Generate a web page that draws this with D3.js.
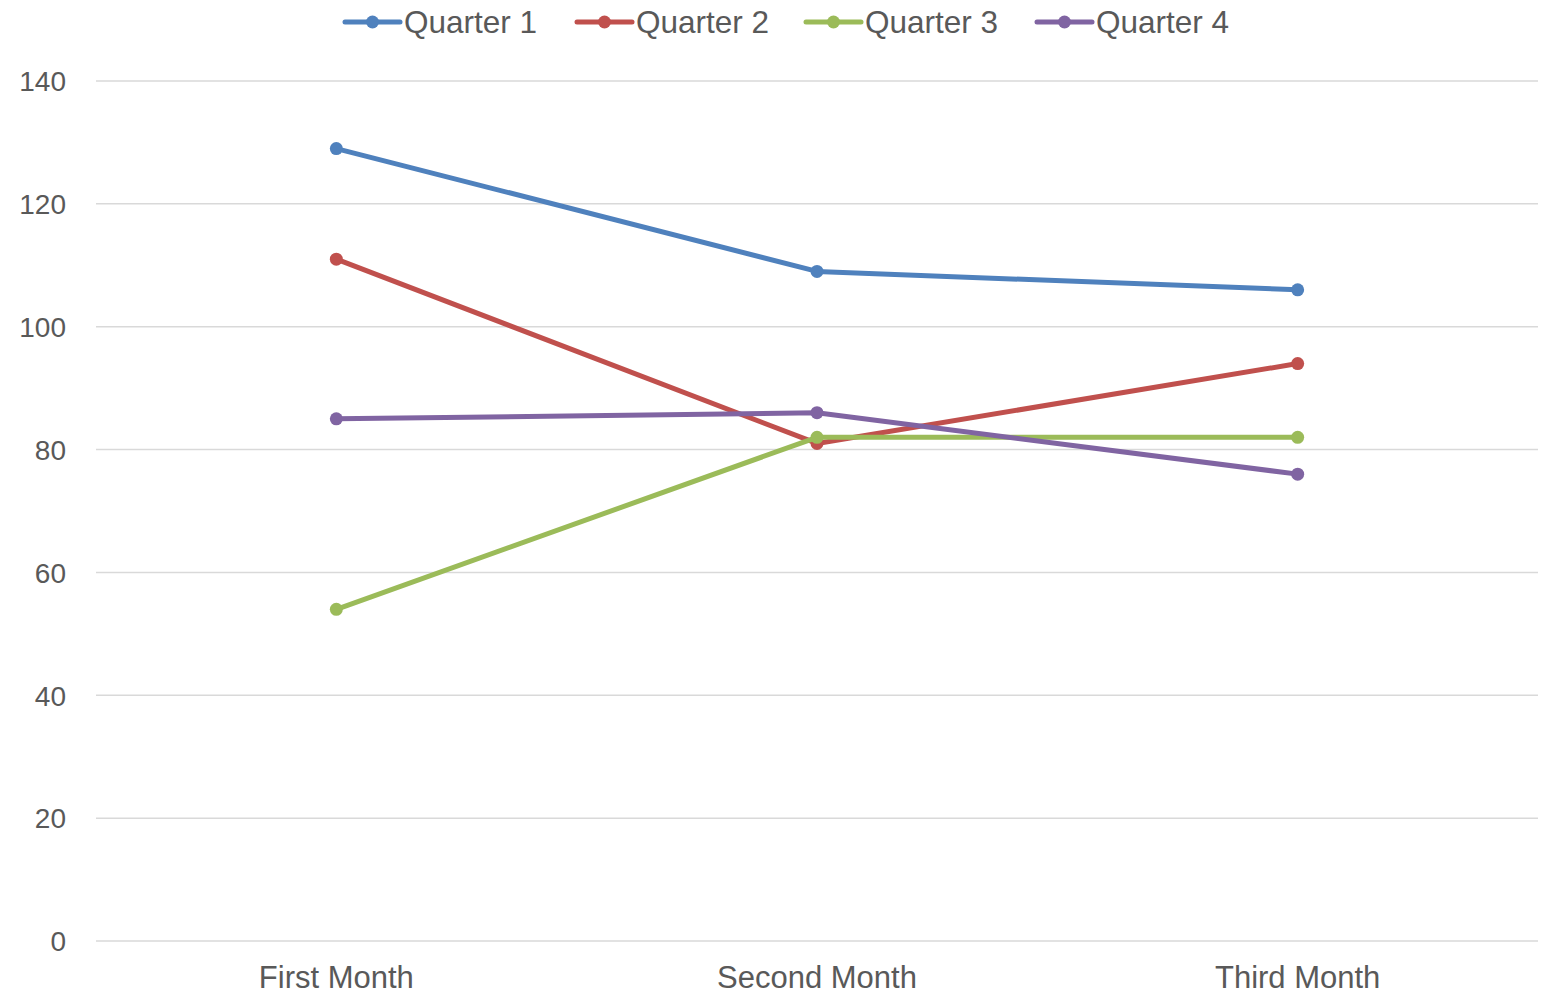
<!DOCTYPE html>
<html>
<head>
<meta charset="utf-8">
<script src="https://cdn.jsdelivr.net/npm/d3@7"></script>
<style>
  body { margin: 0; background: #fff; }
  text { font-family: "Liberation Sans", Arial, sans-serif; fill: #595959; }
</style>
</head>
<body>
<svg id="chart" width="1552" height="995"></svg>
<script>
// data
var months = ["First Month", "Second Month", "Third Month"];
var seriesNames = ["Quarter 1", "Quarter 2", "Quarter 3", "Quarter 4"];
var quarter1 = [129, 109, 106];
var quarter2 = [111, 81, 94];
var quarter3 = [54, 82, 82];
var quarter4 = [85, 86, 76];
var colors = ["#4f81bd", "#c0504d", "#9bbb59", "#8064a2"];
var yTicks = [0, 20, 40, 60, 80, 100, 120, 140];

var allSeries = [quarter1, quarter2, quarter3, quarter4];

var svg = d3.select("#chart");
var plotLeft = 96, plotRight = 1538, plotTop = 81, plotBottom = 941;

var x = d3.scaleBand().domain(months).range([plotLeft, plotRight]);
var y = d3.scaleLinear().domain([0, 140]).range([plotBottom, plotTop]);

// gridlines
svg.append("g")
    .selectAll("line")
    .data(yTicks)
    .enter()
    .append("line")
    .attr("x1", plotLeft)
    .attr("x2", plotRight)
    .attr("y1", function(d) { return y(d); })
    .attr("y2", function(d) { return y(d); })
    .attr("stroke", "#d9d9d9")
    .attr("stroke-width", 1.5);

// y axis labels
var yAxis = svg.append("g")
    .attr("transform", "translate(" + (plotLeft - 30) + ",0)")
    .call(d3.axisLeft(y).tickValues(yTicks).tickSize(0).tickPadding(0));
yAxis.select(".domain").remove();
yAxis.selectAll("text")
    .attr("font-size", "28px")
    .attr("font-family", "Liberation Sans, Arial, sans-serif")
    .attr("fill", "#595959")
    .attr("dy", "0.35em");

// x axis labels
var xAxis = svg.append("g")
    .attr("transform", "translate(0," + plotBottom + ")")
    .call(d3.axisBottom(x).tickSize(0).tickPadding(0));
xAxis.select(".domain").remove();
xAxis.selectAll("text")
    .attr("font-size", "31px")
    .attr("font-family", "Liberation Sans, Arial, sans-serif")
    .attr("fill", "#595959")
    .attr("y", 47)
    .attr("dy", 0);

var cx = function(i) { return x(months[i]) + x.bandwidth() / 2; };

var line = d3.line()
    .x(function(d, i) { return cx(i); })
    .y(function(d) { return y(d); });

allSeries.forEach(function(vals, s) {
    svg.append("path")
        .datum(vals)
        .attr("d", line)
        .attr("fill", "none")
        .attr("stroke", colors[s])
        .attr("stroke-width", 5)
        .attr("stroke-linejoin", "round")
        .attr("stroke-linecap", "round");

    svg.append("g")
        .selectAll("circle")
        .data(vals)
        .enter()
        .append("circle")
        .attr("cx", function(d, i) { return cx(i); })
        .attr("cy", function(d) { return y(d); })
        .attr("r", 6.5)
        .attr("fill", colors[s]);
});

// legend
var legendX = [345, 577, 806, 1037];
var legend = svg.append("g");
seriesNames.forEach(function(name, s) {
    var g = legend.append("g").attr("transform", "translate(" + legendX[s] + ",22)");
    g.append("line")
        .attr("x1", 0).attr("x2", 55)
        .attr("y1", 0).attr("y2", 0)
        .attr("stroke", colors[s])
        .attr("stroke-width", 5)
        .attr("stroke-linecap", "round");
    g.append("circle")
        .attr("cx", 27.5).attr("cy", 0).attr("r", 6.5)
        .attr("fill", colors[s]);
    g.append("text")
        .attr("x", 59)
        .attr("y", 0)
        .attr("dy", "0.35em")
        .attr("font-size", "31.5px")
        .text(name);
});
</script>
</body>
</html>
